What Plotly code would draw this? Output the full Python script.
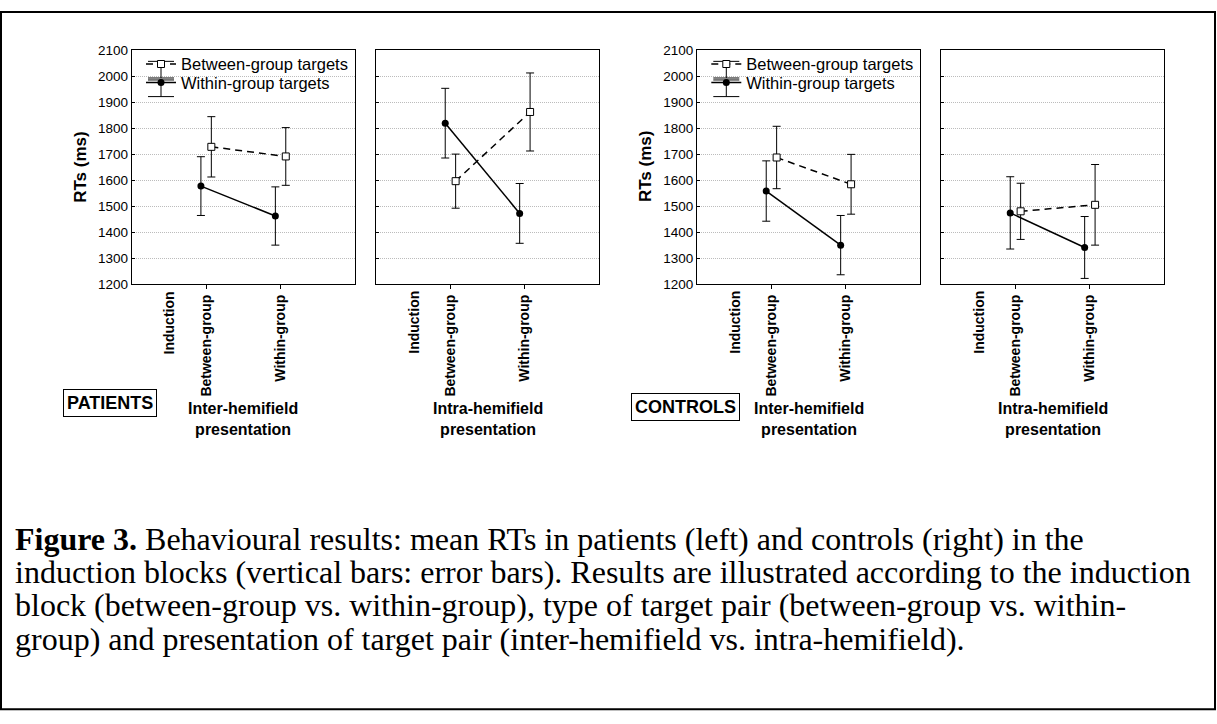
import plotly.graph_objects as go

# ---------------- data ----------------
induction_blocks = ["Between-group", "Within-group"]
induction_positions = [1, 2]
series_names = ["Between-group targets", "Within-group targets"]
panel_titles = ["Inter-hemifield<br>presentation", "Intra-hemifield<br>presentation",
                "Inter-hemifield<br>presentation", "Intra-hemifield<br>presentation"]
group_labels = ["PATIENTS", "CONTROLS"]
y_ticks = [1200, 1300, 1400, 1500, 1600, 1700, 1800, 1900, 2000, 2100]

# Patients, inter-hemifield
pat_inter_between = [1728, 1691]
pat_inter_between_err = [116, 111]
pat_inter_within = [1577, 1462]
pat_inter_within_err = [113, 112]
# Patients, intra-hemifield
pat_intra_between = [1596, 1862]
pat_intra_between_err = [104, 150]
pat_intra_within = [1819, 1472]
pat_intra_within_err = [134, 115]
# Controls, inter-hemifield
ctl_inter_between = [1687, 1584]
ctl_inter_between_err = [120, 115]
ctl_inter_within = [1558, 1350]
ctl_inter_within_err = [116, 114]
# Controls, intra-hemifield
ctl_intra_between = [1480, 1505]
ctl_intra_between_err = [108, 155]
ctl_intra_within = [1474, 1341]
ctl_intra_within_err = [139, 119]

caption_lines = [
    "<b>Figure 3.</b> Behavioural results: mean RTs in patients (left) and controls (right) in the",
    "induction blocks (vertical bars: error bars). Results are illustrated according to the induction",
    "block (between-group vs. within-group), type of target pair (between-group vs. within-",
    "group) and presentation of target pair (inter-hemifield vs. intra-hemifield).",
]

panels = [
    (pat_inter_between, pat_inter_between_err, pat_inter_within, pat_inter_within_err),
    (pat_intra_between, pat_intra_between_err, pat_intra_within, pat_intra_within_err),
    (ctl_inter_between, ctl_inter_between_err, ctl_inter_within, ctl_inter_within_err),
    (ctl_intra_between, ctl_intra_between_err, ctl_intra_within, ctl_intra_within_err),
]

# ---------------- layout constants ----------------
W, H = 1217, 724
SANS = "Liberation Sans, Arial, sans-serif"
SERIF = "Liberation Serif, Times New Roman, serif"
panel_left = [131.7, 376, 697, 941]
panel_w = 223.3
panel_top, panel_bottom = 44, 283
OFF = 0.07
LEG_X = 141            # legend left edge (px) for the patients panel
LEG_SHIFT = 565.3      # shift of legend for the controls panel
LEG_ROWS = [64, 83]    # legend row centres (px)
LEG_ADJ = 5.5          # plotly legend box centre vs. item centre

def fx(px):
    return px / W

def fy(py):
    return 1 - py / H

fig = go.Figure()
layout = dict(
    width=W, height=H, autosize=False,
    margin=dict(l=0, r=0, t=0, b=0),
    paper_bgcolor="white", plot_bgcolor="white",
    font=dict(family=SANS, color="black"),
    showlegend=True,
)

legend_ids = {0: ["legend", "legend2"], 2: ["legend3", "legend4"]}

annotations = []
for i, (bm, be, wm, we) in enumerate(panels):
    n = i + 1
    xa = "x" if n == 1 else f"x{n}"
    ya = "y" if n == 1 else f"y{n}"
    legs = legend_ids.get(i)
    show = legs is not None
    fig.add_trace(go.Scatter(
        x=[p + OFF for p in induction_positions], y=bm,
        error_y=dict(type="data", array=be, color="black", thickness=1, width=4),
        mode="lines+markers", name=series_names[0],
        line=dict(color="black", width=1.5, dash="7px,5px"),
        marker=dict(symbol="square", size=7, color="white", line=dict(color="black", width=1)),
        xaxis=xa, yaxis=ya, showlegend=show, legend=legs[0] if legs else "legend",
    ))
    fig.add_trace(go.Scatter(
        x=[p - OFF for p in induction_positions], y=wm,
        error_y=dict(type="data", array=we, color="black", thickness=1, width=4),
        mode="lines+markers", name=series_names[1],
        line=dict(color="black", width=1.5),
        marker=dict(symbol="circle", size=7, color="black"),
        xaxis=xa, yaxis=ya, showlegend=show, legend=legs[1] if legs else "legend",
    ))
    l = panel_left[i]
    layout["xaxis" if n == 1 else f"xaxis{n}"] = dict(
        domain=[fx(l), fx(l + panel_w)], anchor=ya, range=[0, 3],
        tickmode="array", tickvals=induction_positions, ticktext=induction_blocks,
        tickangle=-90, ticks="outside", ticklen=4, tickcolor="black",
        tickfont=dict(family=SANS, size=14, weight="bold"),
        showline=True, mirror=True, linecolor="black", linewidth=1,
        showgrid=False, zeroline=False, fixedrange=True,
    )
    layout["yaxis" if n == 1 else f"yaxis{n}"] = dict(
        domain=[fy(panel_bottom), fy(panel_top)], anchor=xa, range=[1200, 2100],
        tickmode="array", tickvals=y_ticks, showticklabels=(i in (0, 2)),
        ticks="inside", ticklen=3, tickcolor="black",
        tickfont=dict(family=SANS, size=13.5),
        showline=True, mirror=True, linecolor="black", linewidth=1,
        showgrid=True, gridcolor="#bcbcbc", griddash="1px,1px", gridwidth=1,
        zeroline=False, fixedrange=True,
    )
    annotations.append(dict(
        text="Induction", x=0.5, xref=xa, y=fy(288), yref="paper",
        textangle=-90, xanchor="center", yanchor="top", showarrow=False,
        font=dict(family=SANS, size=14, weight="bold"),
    ))
    annotations.append(dict(
        text=panel_titles[i], x=fx(l + panel_w / 2), xref="paper", y=fy(421), yref="paper",
        xanchor="center", yanchor="middle", showarrow=False,
        font=dict(family=SANS, size=16, weight="bold"),
    ))

for l in (panel_left[0], panel_left[2]):
    annotations.append(dict(
        text="RTs (ms)", x=fx(l - 52), xref="paper", y=fy((panel_top + panel_bottom) / 2), yref="paper",
        textangle=-90, xanchor="center", yanchor="middle", showarrow=False,
        font=dict(family=SANS, size=17, weight="bold"),
    ))

for txt, cx, cy in zip(group_labels, (110, 685), (404, 408)):
    annotations.append(dict(
        text=txt, x=fx(cx), xref="paper", y=fy(cy), yref="paper",
        xanchor="center", yanchor="middle", showarrow=False,
        font=dict(family=SANS, size=18, weight="bold"),
        bordercolor="black", borderwidth=1, borderpad=3, bgcolor="white",
    ))

for k, line in enumerate(caption_lines):
    annotations.append(dict(
        text=line, x=fx(13), xref="paper", y=fy(543 + 34 * k), yref="paper",
        xanchor="left", yanchor="middle", showarrow=False,
        font=dict(family=SERIF, size=32, color="black"),
    ))

layout["annotations"] = annotations

leg_common = dict(
    font=dict(family=SANS, size=16.5, color="black"), bgcolor="rgba(0,0,0,0)",
    xanchor="left", yanchor="middle", borderwidth=0,
)
shapes = []
for j, shift in enumerate((0, LEG_SHIFT)):
    for r, row_y in enumerate(LEG_ROWS):
        lid = legend_ids[0 if j == 0 else 2][r]
        layout[lid] = dict(x=fx(LEG_X + shift), y=fy(row_y - LEG_ADJ), **leg_common)
        # error-bar glyph in the legend key (I-beam)
        cx = LEG_X + shift + 20
        for x0, x1, y0, y1 in ((cx, cx, row_y - 8.5, row_y + 8.5),
                               (cx - 13, cx + 13, row_y - 8.5, row_y - 8.5),
                               (cx - 13, cx + 13, row_y + 8.5, row_y + 8.5)):
            shapes.append(dict(type="line", xref="paper", yref="paper",
                               x0=fx(x0), x1=fx(x1), y0=fy(y0), y1=fy(y1),
                               line=dict(color="black", width=1)))

shapes.append(dict(
    type="rect", xref="paper", yref="paper",
    x0=fx(1), x1=fx(1215), y0=fy(717), y1=fy(5),
    line=dict(color="black", width=2), fillcolor="rgba(0,0,0,0)",
))
layout["shapes"] = shapes

fig.update_layout(**layout)
fig.write_html("out.html")
